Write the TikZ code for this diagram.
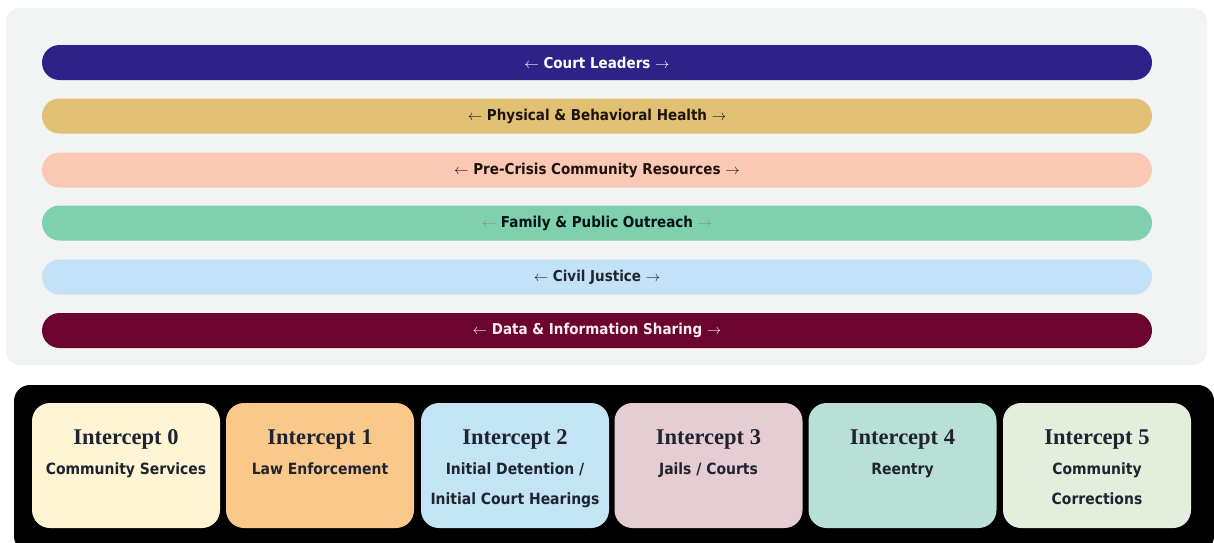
\documentclass[tikz,border=0pt]{standalone}
\usepackage{fontspec}
\usepackage{tikz}
\usetikzlibrary{positioning}
\newfontfamily\labelfont[FakeStretch=0.9]{DejaVu Sans}
\newfontfamily\titlefont{Liberation Serif}
\definecolor{panelgray}{HTML}{F2F4F4}
\definecolor{courtblue}{HTML}{2E2288}
\definecolor{healthgold}{HTML}{E0C173}
\definecolor{crisispeach}{HTML}{FCC8B6}
\definecolor{familygreen}{HTML}{7ED0AE}
\definecolor{civilblue}{HTML}{C3E2F8}
\definecolor{datawine}{HTML}{6B0530}
\definecolor{icptA}{HTML}{FDF5D3}
\definecolor{icptB}{HTML}{FAC98A}
\definecolor{icptC}{HTML}{C3E4F5}
\definecolor{icptD}{HTML}{E6CDD3}
\definecolor{icptE}{HTML}{B9E0D6}
\definecolor{icptF}{HTML}{E3EEDD}
\definecolor{inkdark}{HTML}{1F2430}
\tikzset{%
  band/.style      = {shape=rectangle, rounded corners=17.5pt,%
                      minimum width=1110pt, minimum height=35pt, inner sep=0pt,%
                      font=\labelfont\bfseries\fontsize{15}{18}\selectfont},%
  intercept/.style = {shape=rectangle, rounded corners=18pt,%
                      minimum width=188pt, minimum height=125pt, inner sep=0pt},%
  ititle/.style    = {inner sep=0pt, text=inkdark,%
                      font=\titlefont\bfseries\fontsize{22.5}{26}\selectfont},%
  isub/.style      = {inner sep=0pt, align=center, text=inkdark,%
                      font=\labelfont\bfseries\fontsize{15.5}{30}\selectfont}%
}
\newcommand{\lar}{\(\leftarrow\)}
\newcommand{\rar}{\(\rightarrow\)}

\begin{document}
\begin{tikzpicture}[x=1pt,y=-1pt]
	\fill[white] (0,0) rectangle (1214,542);
	\useasboundingbox (0,0) rectangle (1214,542);
	% shared partners
	\fill[panelgray, rounded corners=14pt] (6,8) rectangle (1207,365);
	\node [band, fill=courtblue, text=white] (leaders) at (597,62.5)
		{\lar{} Court Leaders \rar};
	\node [band, fill=healthgold, text=black!85!brown] (health) at (597,116)
		{\lar{} Physical \& Behavioral Health \rar};
	\node [band, fill=crisispeach, text=black!85!brown] (crisis) at (597,170)
		{\lar{} Pre-Crisis Community Resources \rar};
	\node [band, fill=familygreen, text=black!85!teal] (outreach) at (597,223)
		{{\color{black!45}\lar} Family \& Public Outreach {\color{black!45}\rar}};
	\node [band, fill=civilblue, text=inkdark] (civil) at (597,277)
		{\lar{} Civil Justice \rar};
	\node [band, fill=datawine, text=pink!30] (datashare) at (597,330.5)
		{\lar{} Data \& Information Sharing \rar};
	% intercepts
	\fill[black, rounded corners=16pt] (14,385) rectangle (1214,552);
	\node [intercept, fill=icptA] (i0) at (126,465.5) {};
	\node [intercept, fill=icptB] (i1) at (320,465.5) {};
	\node [intercept, fill=icptC] (i2) at (515,465.5) {};
	\node [intercept, fill=icptD] (i3) at (708.5,465.5) {};
	\node [intercept, fill=icptE] (i4) at (902.5,465.5) {};
	\node [intercept, fill=icptF] (i5) at (1097,465.5) {};
	\node [ititle] (t0) at ([yshift=-37pt]i0.north) {Intercept 0};
	\node [ititle] (t1) at ([yshift=-37pt]i1.north) {Intercept 1};
	\node [ititle] (t2) at ([yshift=-37pt]i2.north) {Intercept 2};
	\node [ititle] (t3) at ([yshift=-37pt]i3.north) {Intercept 3};
	\node [ititle] (t4) at ([yshift=-37pt]i4.north) {Intercept 4};
	\node [ititle] (t5) at ([yshift=-37pt]i5.north) {Intercept 5};
	\node [isub, below=13pt of t0] (s0) {Community Services};
	\node [isub, below=13pt of t1] (s1) {Law Enforcement};
	\node [isub, below=13pt of t2] (s2) {Initial Detention /\\Initial Court Hearings};
	\node [isub, below=13pt of t3] (s3) {Jails / Courts};
	\node [isub, below=13pt of t4] (s4) {Reentry};
	\node [isub, below=13pt of t5] (s5) {Community\\Corrections};
\end{tikzpicture}
\end{document}
